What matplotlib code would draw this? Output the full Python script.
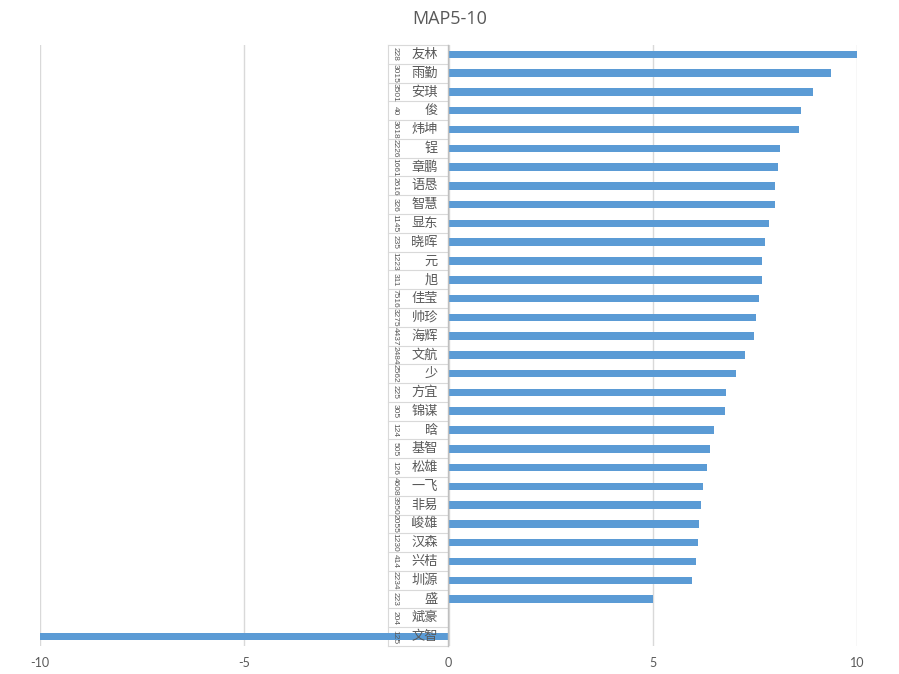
import numpy as np
import matplotlib
matplotlib.use("Agg")
import matplotlib.pyplot as plt
import matplotlib.transforms as mtransforms

plt.rcParams['font.family'] = ['Noto Sans CJK SC', 'DejaVu Sans']

# categories from top to bottom
names = ['友林', '雨勤', '安琪', '俊', '炜坤', '锃', '章鹏', '语恳', '智慧', '显东',
         '晓晖', '元', '旭', '佳莹', '帅珍', '海辉', '文航', '少', '方宜', '锦谋',
         '晗', '基智', '松雄', '一飞', '非易', '峻雄', '汉森', '兴桔', '圳源', '盛',
         '斌豪', '文智']
ids = ['228', '3015', '3501', '40', '3618', '2226', '1661', '2616', '326', '1145',
       '235', '1223', '311', '7516', '3275', '4437', '2484', '2562', '225', '305',
       '124', '505', '126', '4608', '3950', '2055', '1230', '414', '2234', '223',
       '204', '125']
values = [10.0, 9.37, 8.93, 8.62, 8.59, 8.12, 8.07, 8.0, 8.0, 7.85,
          7.76, 7.68, 7.68, 7.61, 7.52, 7.47, 7.25, 7.03, 6.80, 6.76,
          6.51, 6.39, 6.32, 6.24, 6.19, 6.14, 6.11, 6.07, 5.97, 5.0,
          0.0, -10.0]
xticks = [-10, -5, 0, 5, 10]

grey = '#595959'
W, H = 899, 674
fig = plt.figure(figsize=(W / 100, H / 100), dpi=100)
ax = fig.add_axes([40 / W, 1 - 646 / H, 817 / W, 601 / H])

n = len(names)
y = np.arange(n)
ax.barh(y, values, height=0.4, color='#5B9BD5', zorder=3)
ax.set_ylim(n - 0.5, -0.5)
ax.set_xlim(-10, 10)
ax.set_xticks(xticks)
ax.set_xticklabels([str(t) for t in xticks], family=['Lato', 'DejaVu Sans'],
                   fontsize=9, color=grey)
ax.tick_params(axis='x', length=0, pad=8)
ax.set_yticks([])
for s in ax.spines.values():
    s.set_visible(False)
for t in xticks:
    ax.axvline(t, color='#D9D9D9', lw=1, zorder=0)

# two-level category labels to the left of the zero line
tr = mtransforms.blended_transform_factory(fig.transFigure, ax.transData)
x_axis = 448 / W
x_left = 388 / W
ax.plot([x_axis, x_axis], [-0.5, n - 0.5], transform=tr, color='#BFBFBF', lw=1,
        clip_on=False, zorder=4)
ax.plot([x_left, x_left], [-0.5, n - 0.5], transform=tr, color='#D9D9D9', lw=0.8,
        clip_on=False, zorder=1)
for i in range(n + 1):
    ax.plot([x_left, x_axis], [i - 0.5, i - 0.5], transform=tr, color='#D9D9D9',
            lw=0.8, clip_on=False, zorder=1)
for i in range(n):
    ax.text(438 / W, i, names[i], transform=tr, ha='right', va='center',
            fontsize=9.5, color=grey)
    ax.text(395 / W, i, ids[i], transform=tr, ha='center', va='center',
            rotation=-90, fontsize=6, color=grey,
            family=['Liberation Sans Narrow', 'Liberation Sans', 'DejaVu Sans'])

fig.text(0.5, 1 - 19 / H, 'MAP5-10', ha='center', va='center', fontsize=13,
         color=grey, family=['Open Sans', 'DejaVu Sans'])

fig.savefig('out.png', dpi=100, facecolor='white')
